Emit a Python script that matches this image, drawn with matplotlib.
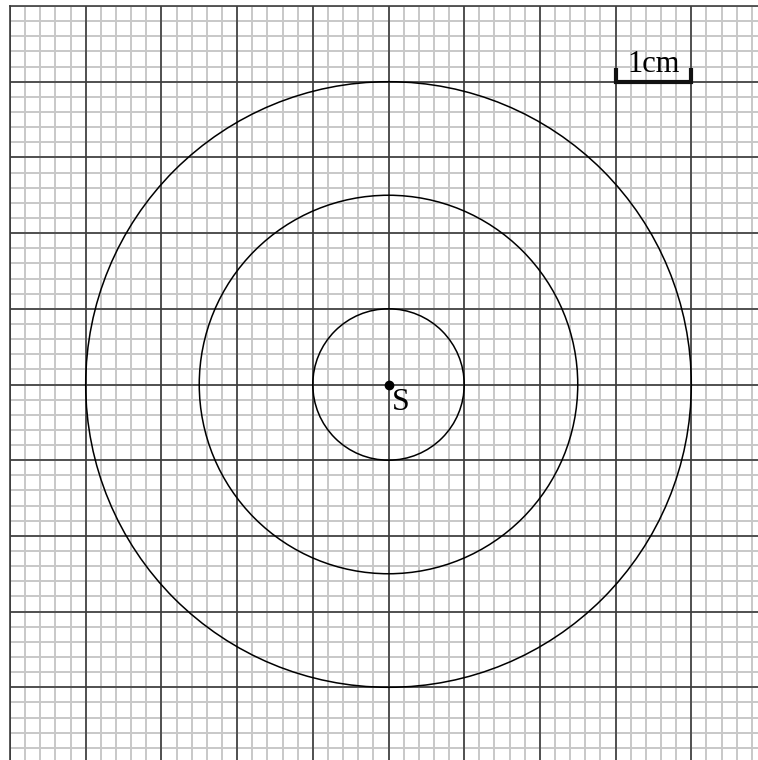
import numpy as np
import matplotlib
matplotlib.use("Agg")
import matplotlib.pyplot as plt
from matplotlib.patches import Circle

# Data (cm)
radii = [1.0, 2.5, 4.0]
center = (0.0, 0.0)
major_pos = [-5, -4, -3, -2, -1, 0, 1, 2, 3, 4]
minor_step = 0.2
scale_bar = (3.0, 4.0, 4.0)  # x0, x1, y
scale_label = "1cm"
point_label = "S"

fig = plt.figure(figsize=(7.58, 7.60), dpi=100)
ax = fig.add_axes([10 / 758, 0, 748 / 758, 754 / 760])
ax.set_xlim(-5, -5 + 748 / 75.7)
ax.set_ylim(5 - 754 / 75.7, 5)
ax.set_aspect("auto")

minor = np.round(np.arange(-5, 5.01, minor_step), 3)
for v in minor:
    ax.axvline(v, color="#c8c8c8", lw=1.4, zorder=1)
    ax.axhline(v, color="#c8c8c8", lw=1.4, zorder=1)
for v in major_pos:
    ax.axvline(v, color="#3c3c3c", lw=1.2, zorder=2)
    ax.axhline(v, color="#3c3c3c", lw=1.2, zorder=2)

for r in radii:
    ax.add_patch(Circle(center, r, fill=False, ec="black", lw=1.1, zorder=3))

ax.plot([center[0]], [center[1]], "o", color="black", ms=6, zorder=4)
ax.text(0.05, -0.34, point_label, fontsize=23, family="Liberation Serif",
        ha="left", va="baseline", zorder=5)

x0, x1, y = scale_bar
ax.plot([x0, x0, x1, x1], [y + 0.18, y, y, y + 0.18], color="#111111", lw=3.0,
        solid_joinstyle="miter", solid_capstyle="butt", zorder=5)
ax.text((x0 + x1) / 2, y + 0.13, scale_label, fontsize=22, family="Liberation Serif",
        ha="center", va="baseline", zorder=5)

ax.set_xticks([])
ax.set_yticks([])
for s in ["right", "bottom"]:
    ax.spines[s].set_visible(False)
for s in ["left", "top"]:
    ax.spines[s].set_color("#3c3c3c")
    ax.spines[s].set_linewidth(1.2)

fig.savefig("out.png", dpi=100, facecolor="white")
